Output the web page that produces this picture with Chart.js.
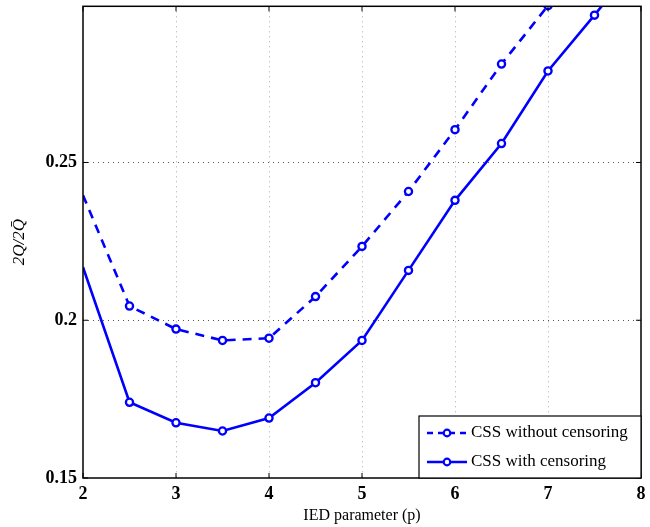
<!DOCTYPE html>
<html>
<head>
<meta charset="utf-8">
<script src="https://cdn.jsdelivr.net/npm/chart.js@4/dist/chart.umd.min.js"></script>
<style>
  html, body { margin: 0; padding: 0; background: #fff; }
  #wrap { width: 650px; height: 527px; }
</style>
</head>
<body>
<div id="wrap"><canvas id="chart"></canvas></div>
<script>
// IED parameter values
const pValues = [2, 2.5, 3, 3.5, 4, 4.5, 5, 5.5, 6, 6.5, 7, 7.5, 8];
// 2Q/2Q-bar ratio
const cssWithout = [0.2396, 0.2045, 0.1972, 0.1936, 0.1943, 0.2075, 0.2234, 0.2408, 0.2604, 0.2812, 0.2997, 0.318, 0.337];
const cssWith = [0.2168, 0.1740, 0.1675, 0.1649, 0.1690, 0.1802, 0.1936, 0.2158, 0.2380, 0.2560, 0.2790, 0.2967, 0.315];
const xTicks = [2, 3, 4, 5, 6, 7, 8];
const yTicks = [0.15, 0.2, 0.25];
const seriesLabels = ['CSS without censoring', 'CSS with censoring'];

const blue = '#0000ff';
const serif = "'Liberation Serif', 'DejaVu Serif', serif";

const toPoints = arr => arr.map((v, i) => ({ x: pValues[i], y: v }));
// first point has no visible marker in the figure
const radii = pValues.map((p, i) => i === 0 ? 0 : 3.6);

// box, inward ticks and legend drawn on top (matlab look)
const frame = {
    id: 'frame',
    afterDraw(chart) {
        const { ctx, chartArea: a, scales } = chart;
        ctx.save();
        ctx.strokeStyle = '#000';
        ctx.lineWidth = 1.5;
        ctx.strokeRect(a.left, a.top, a.right - a.left, a.bottom - a.top);
        ctx.lineWidth = 1;
        ctx.beginPath();
        xTicks.forEach(t => {
            const x = scales.x.getPixelForValue(t);
            ctx.moveTo(x, a.bottom); ctx.lineTo(x, a.bottom - 5);
            ctx.moveTo(x, a.top); ctx.lineTo(x, a.top + 5);
        });
        yTicks.forEach(t => {
            const y = scales.y.getPixelForValue(t);
            ctx.moveTo(a.left, y); ctx.lineTo(a.left + 5, y);
            ctx.moveTo(a.right, y); ctx.lineTo(a.right - 5, y);
        });
        ctx.stroke();

        // legend box
        const lx = 419, ly = 416, lw = a.right - lx, lh = a.bottom - ly;
        ctx.fillStyle = '#fff';
        ctx.fillRect(lx, ly, lw, lh);
        ctx.lineWidth = 1.2;
        ctx.strokeRect(lx, ly, lw, lh);
        const rows = [ly + 17, ly + 46];
        ctx.strokeStyle = blue;
        ctx.lineWidth = 2.5;
        rows.forEach((ry, i) => {
            ctx.setLineDash(i === 0 ? [6, 5] : []);
            ctx.beginPath();
            ctx.moveTo(427, ry); ctx.lineTo(467, ry);
            ctx.stroke();
            ctx.setLineDash([]);
            ctx.beginPath();
            ctx.arc(447, ry, 3.3, 0, Math.PI * 2);
            ctx.lineWidth = 2.2;
            ctx.fillStyle = '#fff';
            ctx.fill();
            ctx.stroke();
            ctx.lineWidth = 2.5;
            ctx.fillStyle = '#000';
            ctx.font = '17px ' + serif;
            ctx.textBaseline = 'middle';
            ctx.fillText(seriesLabels[i], 471, ry);
        });
        ctx.restore();
    }
};

new Chart(document.getElementById('chart'), {
    type: 'line',
    data: {
        datasets: [
            {
                label: seriesLabels[0],
                data: toPoints(cssWithout),
                borderColor: blue,
                backgroundColor: '#fff',
                borderWidth: 2.6,
                borderDash: [9, 7],
                pointRadius: radii,
                pointBorderWidth: 2.3,
                pointBackgroundColor: '#fff',
                pointBorderColor: blue,
                tension: 0
            },
            {
                label: seriesLabels[1],
                data: toPoints(cssWith),
                borderColor: blue,
                backgroundColor: '#fff',
                borderWidth: 2.6,
                pointRadius: radii,
                pointBorderWidth: 2.3,
                pointBackgroundColor: '#fff',
                pointBorderColor: blue,
                tension: 0
            }
        ]
    },
    options: {
        responsive: true,
        maintainAspectRatio: false,
        animation: false,
        layout: { padding: { top: 5, right: 9, left: 0, bottom: 0 } },
        plugins: { legend: { display: false }, tooltip: { enabled: false } },
        scales: {
            x: {
                type: 'linear',
                min: 2, max: 8,
                afterBuildTicks: s => { s.ticks = xTicks.map(v => ({ value: v })); },
                afterFit: s => { s.height = 49; s.paddingLeft = 0; s.paddingRight = 0; },
                grid: {
                    color: c => (c.tick && (c.tick.value === 2 || c.tick.value === 8)) ? 'rgba(0,0,0,0)' : '#aaa',
                    lineWidth: 1,
                    drawTicks: false
                },
                border: { display: false, dash: [1, 4] },
                ticks: { color: '#000', padding: 6, font: { family: serif, size: 18, weight: 'bold' } },
                title: {
                    display: true, text: 'IED parameter (p)', color: '#000', padding: { top: 0, bottom: 2 },
                    font: { family: serif, size: 16 }
                }
            },
            y: {
                min: 0.15, max: 0.2995,
                afterBuildTicks: s => { s.ticks = yTicks.map(v => ({ value: v })); },
                afterFit: s => { s.width = 83; s.paddingTop = 0; s.paddingBottom = 0; },
                grid: {
                    color: c => (c.tick && c.tick.value === 0.15) ? 'rgba(0,0,0,0)' : '#555',
                    lineWidth: 1,
                    drawTicks: false
                },
                border: { display: false, dash: [1, 4] },
                ticks: {
                    color: '#000', padding: 6,
                    font: { family: serif, size: 18, weight: 'bold' },
                    callback: v => String(v)
                },
                title: {
                    display: true, text: '2Q/2Q\u0304', color: '#000', padding: { top: 9, bottom: 0 },
                    font: { family: serif, size: 17, style: 'italic' }
                }
            }
        }
    },
    plugins: [frame]
});
</script>
</body>
</html>
